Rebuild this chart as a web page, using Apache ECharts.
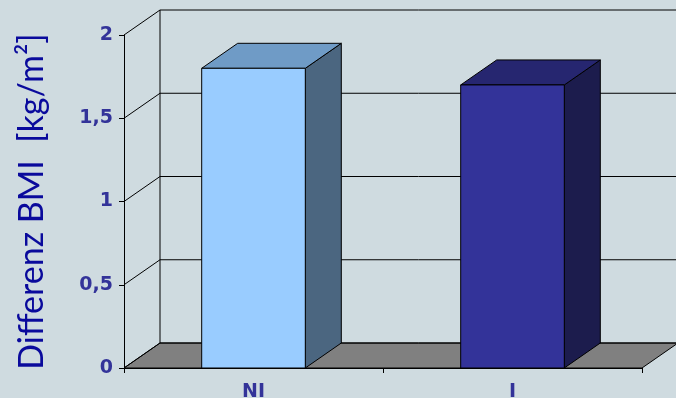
<!DOCTYPE html>
<html>
<head>
<meta charset="utf-8">
<script src="https://cdn.jsdelivr.net/npm/echarts@6/dist/echarts.min.js"></script>
<style>
  html, body { margin: 0; padding: 0; background: #cfdbe0; }
  #chart { width: 676px; height: 398px; }
</style>
</head>
<body>
<div id="chart"></div>
<script>
// Groups and their BMI difference
const categories = ['NI', 'I'];
const bmiDiff = [1.8, 1.7];
// Value axis ticks
const yTicks = [0, 0.5, 1, 1.5, 2];

// Face shades per column: front, top, side
const frontColors = ['#99ccff', '#333399'];
const topColors = ['#6f9bc6', '#262670'];
const sideColors = ['#4b6680', '#1c1c4d'];

// Oblique depth of the 3D box (pixels)
const DX = 36, DY = -25;
const EDGE = { stroke: '#000', lineWidth: 1 };

const chart = echarts.init(document.getElementById('chart'));

const option = {
  backgroundColor: '#cfdbe0',
  animation: false,
  grid: {
    left: 124, right: 34, top: 35, bottom: 30,
    containLabel: false, outerBoundsMode: 'none'
  },
  xAxis: {
    type: 'category',
    data: categories,
    axisLine: { lineStyle: { color: '#000', width: 1 } },
    axisTick: { show: true, length: 5, lineStyle: { color: '#000' } },
    axisLabel: {
      color: '#333399', fontWeight: 'bold', fontSize: 19,
      fontFamily: 'DejaVu Sans', margin: 15
    },
    z: 10
  },
  yAxis: {
    type: 'value',
    min: 0, max: 2, interval: 0.5,
    name: 'Differenz BMI  [kg/m²]',
    nameLocation: 'middle',
    nameGap: 75,
    nameTextStyle: { color: '#0a0a9c', fontSize: 34, fontFamily: 'Lato, "Open Sans", sans-serif' },
    axisLine: { show: true, lineStyle: { color: '#000', width: 1 } },
    axisTick: { show: true, length: 5, lineStyle: { color: '#000' } },
    splitLine: { show: false },
    axisLabel: {
      color: '#333399', fontWeight: 'bold', fontSize: 19,
      fontFamily: 'DejaVu Sans', margin: 11,
      formatter: v => String(v).replace('.', ',')
    },
    z: 10
  },
  series: [
    {
      // floor of the 3D box
      type: 'custom',
      z: 1,
      data: [[0]],
      renderItem: (params, api) => {
        const cs = params.coordSys;
        const l = cs.x, r = cs.x + cs.width;
        const y0 = api.coord([0, 0])[1];
        return {
          type: 'polygon',
          shape: { points: [[l, y0], [r, y0], [r + DX, y0 + DY], [l + DX, y0 + DY]] },
          style: Object.assign({ fill: '#808080' }, EDGE)
        };
      }
    },
    {
      // back and side wall gridlines
      type: 'custom',
      z: 2,
      data: yTicks.map(v => [v]),
      renderItem: (params, api) => {
        const cs = params.coordSys;
        const l = cs.x, r = cs.x + cs.width;
        const y = api.coord([0, api.value(0)])[1];
        const children = [
          { type: 'line', shape: { x1: l, y1: y, x2: l + DX, y2: y + DY }, style: EDGE },
          { type: 'line', shape: { x1: l + DX, y1: y + DY, x2: r + DX + 40, y2: y + DY }, style: EDGE }
        ];
        if (params.dataIndex === yTicks.length - 1) {
          const y0 = api.coord([0, 0])[1];
          children.push({ type: 'line', shape: { x1: l + DX, y1: y + DY, x2: l + DX, y2: y0 + DY }, style: EDGE });
        }
        return { type: 'group', children };
      }
    },
    {
      // 3D columns
      type: 'custom',
      z: 3,
      data: bmiDiff.map((v, i) => [i, v]),
      renderItem: (params, api) => {
        const i = api.value(0);
        const top = api.coord([i, api.value(1)]);
        const base = api.coord([i, 0]);
        const w = api.size([1, 0])[0] * 0.4;
        const x0 = top[0] - w / 2, x1 = top[0] + w / 2;
        const yt = top[1], yb = base[1];
        return {
          type: 'group',
          children: [
            {
              type: 'polygon',
              shape: { points: [[x1, yt], [x1 + DX, yt + DY], [x1 + DX, yb + DY], [x1, yb]] },
              style: Object.assign({ fill: sideColors[i] }, EDGE)
            },
            {
              type: 'polygon',
              shape: { points: [[x0, yt], [x1, yt], [x1 + DX, yt + DY], [x0 + DX, yt + DY]] },
              style: Object.assign({ fill: topColors[i] }, EDGE)
            },
            {
              type: 'rect',
              shape: { x: x0, y: yt, width: w, height: yb - yt },
              style: Object.assign({ fill: frontColors[i] }, EDGE)
            }
          ]
        };
      }
    }
  ]
};

chart.setOption(option);
</script>
</body>
</html>
